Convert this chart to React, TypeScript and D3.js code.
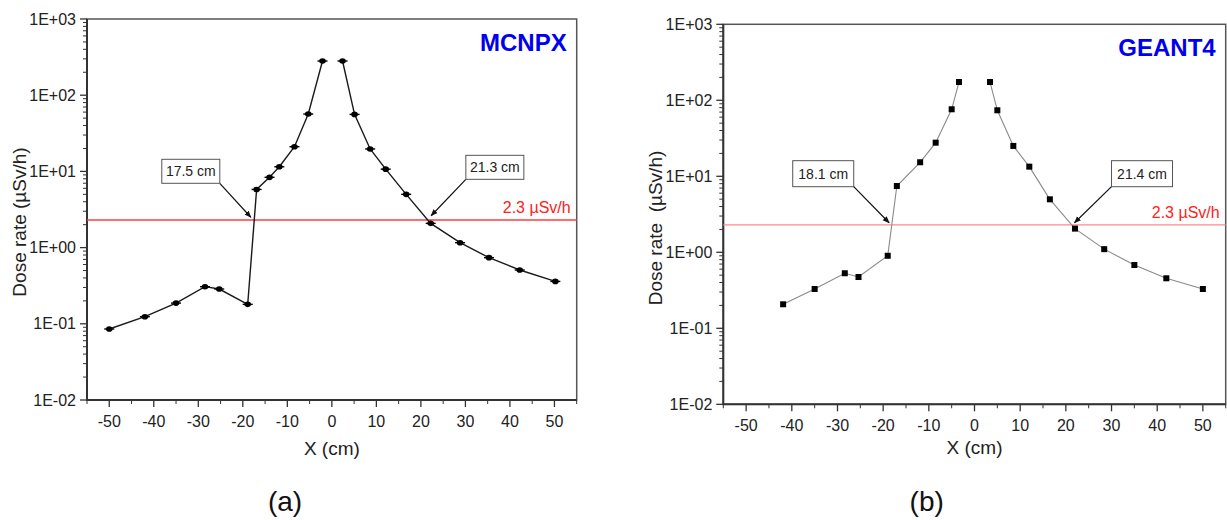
import React from "react";
import * as d3 from "d3";

// ---------- DATA ----------
const X_TICKS = [-50, -40, -30, -20, -10, 0, 10, 20, 30, 40, 50];
const Y_TICKS = [1e-2, 1e-1, 1e0, 1e1, 1e2, 1e3];
const Y_TICK_LABELS = ["1E-02", "1E-01", "1E+00", "1E+01", "1E+02", "1E+03"];
const LIMIT = 2.3;

// MCNPX (a)
const MCNPX_NEG_X = [-50, -42, -35, -28.5, -25.3, -18.9, -16.9, -14, -11.8, -8.4, -5.3, -2.1];
const MCNPX_NEG_Y = [0.0855, 0.124, 0.187, 0.307, 0.286, 0.18, 5.8, 8.36, 11.5, 21.1, 56.6, 281];
const MCNPX_POS_X = [2.4, 5.1, 8.6, 12.1, 16.7, 22.2, 28.8, 35.3, 42.2, 50.2];
const MCNPX_POS_Y = [281, 56, 19.7, 10.7, 5.0, 2.08, 1.16, 0.738, 0.508, 0.36];

// GEANT4 (b)
const GEANT_NEG_X = [-41.9, -35.0, -28.4, -25.4, -19.0, -17.0, -11.9, -8.5, -5.0, -3.4];
const GEANT_NEG_Y = [0.207, 0.329, 0.53, 0.473, 0.9, 7.45, 15.3, 27.7, 76.2, 174];
const GEANT_POS_X = [3.4, 5.0, 8.5, 12.0, 16.5, 22.0, 28.4, 35.0, 42.0, 50.0];
const GEANT_POS_Y = [174, 73.9, 25.1, 13.4, 4.98, 2.05, 1.1, 0.68, 0.455, 0.329];

// annotations: label, box bottom-left corner (data), leader start corner, tip (data)
const MCNPX_NOTES = [
  { label: "17.5 cm", bx: -38.2, by: 6.98, corner: "right", tx: -18.2, ty: 2.5 },
  { label: "21.3 cm", bx: 30.1, by: 7.87, corner: "left", tx: 22.3, ty: 2.62 },
];
const GEANT_NOTES = [
  { label: "18.1 cm", bx: -39.8, by: 7.3, corner: "right", tx: -18.7, ty: 2.45 },
  { label: "21.4 cm", bx: 30.0, by: 7.3, corner: "left", tx: 21.9, ty: 2.45 },
];

const FONT = "'Liberation Sans', Arial, Helvetica, sans-serif";

type Note = { label: string; bx: number; by: number; corner: string; tx: number; ty: number };

type PanelProps = {
  id: string;
  x0: number; x1: number; y0: number; y1: number;
  segments: { xs: number[]; ys: number[] }[];
  notes: Note[];
  title: string;
  letter: string;
  letterX: number;
  yLabel: string;
  yLabelX: number;
  yLabelY: number;
  xTitleOffset: number;
  variant: "a" | "b";
  boxW: number; boxH: number;
};

function Panel(p: PanelProps) {
  const x = d3.scaleLinear().domain([-55, 55]).range([p.x0, p.x1]);
  const y = d3.scaleLog().domain([1e-2, 1e3]).range([p.y1, p.y0]);
  const line = d3
    .line<[number, number]>()
    .x((d) => x(d[0]))
    .y((d) => y(d[1]));

  const minorX = d3.range(-55, 56, 5).filter((v) => v % 10 !== 0);
  const minorY: number[] = [];
  for (let e = -2; e < 3; e++) for (let m = 2; m <= 9; m++) minorY.push(m * Math.pow(10, e));

  const axisColor = "#333";
  const lineColor = p.variant === "a" ? "#1a1a1a" : "#8a8a8a";
  const redColor = p.variant === "a" ? "#ff3b3b" : "#ff8a8a";
  const markerId = `arrow-${p.id}`;

  return (
    <g>
      <defs>
        <marker id={markerId} viewBox="0 0 10 10" refX="9" refY="5" markerWidth="7" markerHeight="7" orient="auto-start-reverse" markerUnits="userSpaceOnUse">
          <path d="M0,1 L10,5 L0,9 z" fill="#111" />
        </marker>
      </defs>
      {/* frame */}
      <rect x={p.x0} y={p.y0} width={p.x1 - p.x0} height={p.y1 - p.y0} fill="none" stroke="#555" strokeWidth={1.5} />
      {/* y ticks */}
      {Y_TICKS.map((v, i) => (
        <g key={"yt" + i}>
          <line x1={p.x0 - 7} x2={p.x0} y1={y(v)} y2={y(v)} stroke={axisColor} strokeWidth={1.3} />
          <text x={p.x0 - 11} y={y(v)} dominantBaseline="central" textAnchor="end" fontSize={16} fontFamily={FONT} fill="#222">
            {Y_TICK_LABELS[i]}
          </text>
        </g>
      ))}
      {minorY.map((v, i) => (
        <line key={"ym" + i} x1={p.x0 - 4} x2={p.x0} y1={y(v)} y2={y(v)} stroke={axisColor} strokeWidth={1} />
      ))}
      {/* x ticks */}
      {X_TICKS.map((v) => (
        <g key={"xt" + v}>
          <line x1={x(v)} x2={x(v)} y1={p.y1} y2={p.y1 + 7} stroke={axisColor} strokeWidth={1.3} />
          <text x={x(v)} y={p.y1 + 27} textAnchor="middle" fontSize={16} fontFamily={FONT} fill="#222">
            {v}
          </text>
        </g>
      ))}
      {minorX.map((v) => (
        <line key={"xm" + v} x1={x(v)} x2={x(v)} y1={p.y1} y2={p.y1 + 4} stroke={axisColor} strokeWidth={1} />
      ))}
      {/* axis lines */}
      <line x1={p.x0} x2={p.x0} y1={p.y0} y2={p.y1 + 0.7} stroke={axisColor} strokeWidth={2} />
      <line x1={p.x0 - 0.7} x2={p.x1} y1={p.y1} y2={p.y1} stroke={axisColor} strokeWidth={2} />
      {/* limit line */}
      <line x1={p.x0} x2={p.x1} y1={y(LIMIT)} y2={y(LIMIT)} stroke={redColor} strokeWidth={p.variant === "a" ? 1.5 : 1.2} />
      <text x={p.x1 - 6} y={y(LIMIT) - 7} textAnchor="end" fontSize={16} fontFamily={FONT} fill="#ff2020">
        2.3 µSv/h
      </text>
      {/* data */}
      {p.segments.map((s, si) => {
        const pts = s.xs.map((v, i) => [v, s.ys[i]] as [number, number]);
        return (
          <g key={"s" + si}>
            <path d={line(pts) || ""} fill="none" stroke={lineColor} strokeWidth={p.variant === "a" ? 1.4 : 1.1} />
            {pts.map((d, i) =>
              p.variant === "a" ? (
                <g key={i}>
                  <line x1={x(d[0]) - 5} x2={x(d[0]) + 5} y1={y(d[1])} y2={y(d[1])} stroke="#000" strokeWidth={1.4} />
                  <ellipse cx={x(d[0])} cy={y(d[1])} rx={3.3} ry={2.8} fill="#000" />
                </g>
              ) : (
                <rect key={i} x={x(d[0]) - 3} y={y(d[1]) - 3} width={6} height={6} fill="#000" />
              )
            )}
          </g>
        );
      })}
      {/* annotations */}
      {p.notes.map((n, i) => {
        const bx = x(n.bx);
        const by = y(n.by);
        const sx = n.corner === "right" ? bx + p.boxW : bx;
        return (
          <g key={"n" + i}>
            <line x1={sx} y1={by} x2={x(n.tx)} y2={y(n.ty)} stroke="#111" strokeWidth={1.2} markerEnd={`url(#${markerId})`} />
            <rect x={bx} y={by - p.boxH} width={p.boxW} height={p.boxH} fill="#fff" stroke="#555" strokeWidth={1} />
            <text x={bx + p.boxW / 2} y={by - p.boxH / 2} textAnchor="middle" dominantBaseline="central" fontSize={14} fontFamily={FONT} fill="#222">
              {n.label}
            </text>
          </g>
        );
      })}
      {/* title */}
      <text x={p.x1 - 10} y={p.y0 + 32} textAnchor="end" fontSize={24} fontWeight="bold" fontFamily={FONT} fill="#0000ee">
        {p.title}
      </text>
      {/* axis titles */}
      <text x={(p.x0 + p.x1) / 2} y={p.y1 + p.xTitleOffset} textAnchor="middle" fontSize={19} fontFamily={FONT} fill="#222">
        X (cm)
      </text>
      <text
        transform={`translate(${p.yLabelX},${p.yLabelY}) rotate(-90)`}
        textAnchor="middle"
        dominantBaseline="central"
        fontSize={19}
        fontFamily={FONT}
        fill="#222"
        style={{ whiteSpace: "pre" }}
      >
        {p.yLabel}
      </text>
      <text x={p.letterX} y={511} textAnchor="middle" fontSize={28} fontFamily={FONT} fill="#111">
        {p.letter}
      </text>
    </g>
  );
}

export default function App() {
  return (
    <svg width={1227} height={520} style={{ position: "absolute", left: 0, top: 0, background: "#fff" }}>
      <rect x={0} y={0} width={1227} height={520} fill="#fff" />
      <Panel
        id="a"
        x0={87}
        x1={576.7}
        y0={19}
        y1={400}
        segments={[
          { xs: MCNPX_NEG_X, ys: MCNPX_NEG_Y },
          { xs: MCNPX_POS_X, ys: MCNPX_POS_Y },
        ]}
        notes={MCNPX_NOTES}
        title="MCNPX"
        letter="(a)"
        letterX={285}
        yLabel="Dose rate (µSv/h)"
        yLabelX={19}
        yLabelY={222}
        xTitleOffset={55}
        variant="a"
        boxW={58}
        boxH={24}
      />
      <Panel
        id="b"
        x0={723.3}
        x1={1225.7}
        y0={24.3}
        y1={404.3}
        segments={[
          { xs: GEANT_NEG_X, ys: GEANT_NEG_Y },
          { xs: GEANT_POS_X, ys: GEANT_POS_Y },
        ]}
        notes={GEANT_NOTES}
        title="GEANT4"
        letter="(b)"
        letterX={926.7}
        yLabel="Dose rate  (µSv/h)"
        yLabelX={655}
        yLabelY={228}
        xTitleOffset={50}
        variant="b"
        boxW={61}
        boxH={26}
      />
    </svg>
  );
}
